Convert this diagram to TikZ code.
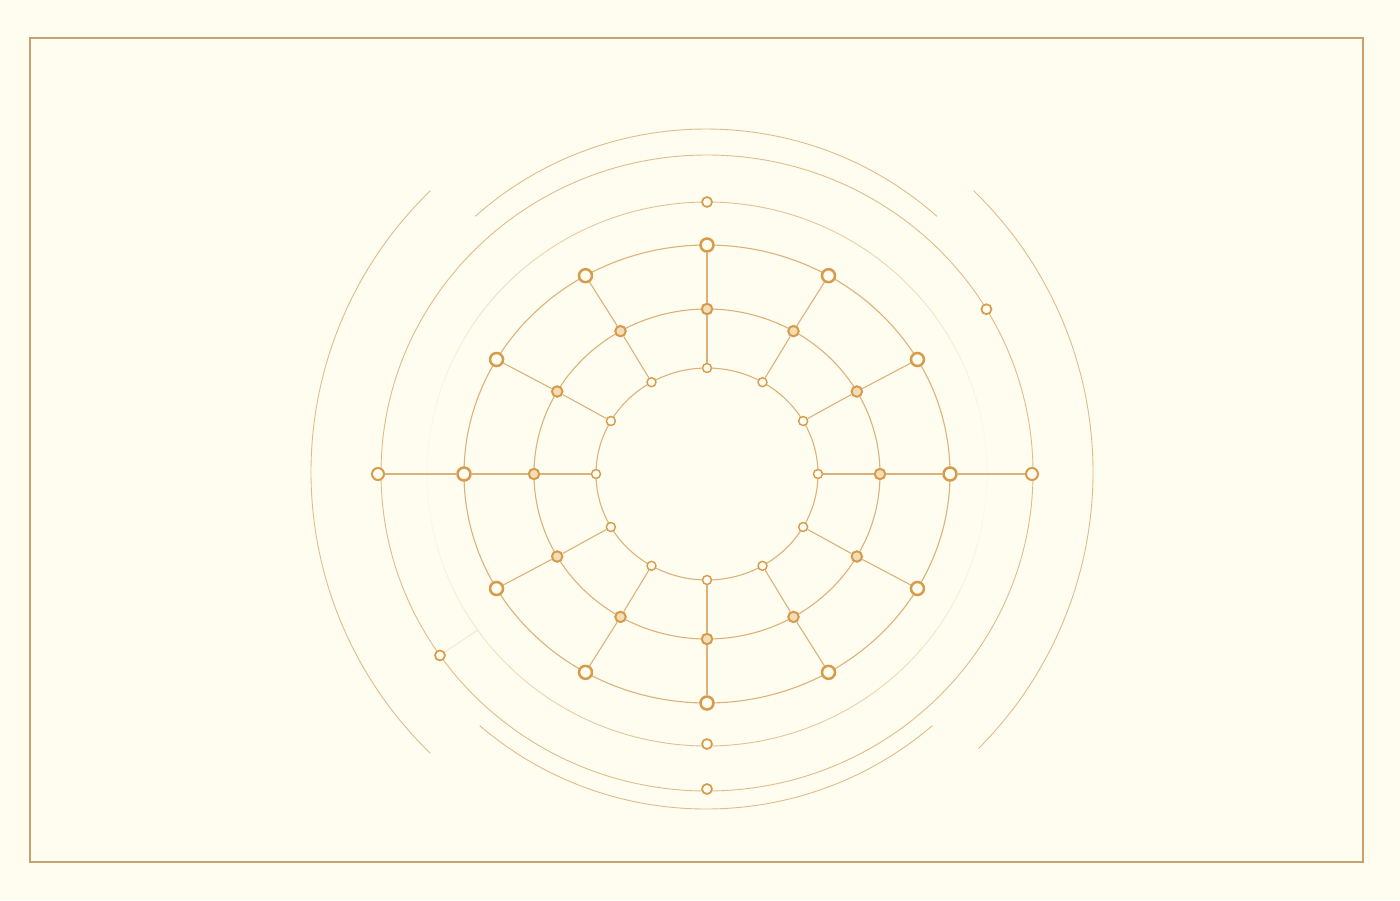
\documentclass[tikz,border=0pt]{standalone}
\definecolor{bgc}{HTML}{FFFDF0}
\definecolor{framec}{HTML}{C8A26C}
\definecolor{ringc}{HTML}{DDB27A}
\definecolor{thinc}{HTML}{E0BC8A}
\definecolor{nodec}{HTML}{D69C4C}
\definecolor{nodefill}{HTML}{F3DDB6}
\tikzset{
  ring/.style={draw=ringc, line width=1.1pt},
  thinring/.style={draw=thinc, line width=0.9pt},
  spoke/.style={draw=ringc, line width=1.1pt},
  nA/.style={circle, draw=nodec, fill=bgc, line width=1.4pt, minimum size=9pt, inner sep=0pt},
  nB/.style={circle, draw=nodec, fill=nodefill, line width=2pt, minimum size=10.5pt, inner sep=0pt},
  nC/.style={circle, draw=nodec, fill=bgc, line width=2.5pt, minimum size=13pt, inner sep=0pt},
  nD/.style={circle, draw=nodec, fill=bgc, line width=1.7pt, minimum size=10pt, inner sep=0pt},
  nE/.style={circle, draw=nodec, fill=bgc, line width=2pt, minimum size=12pt, inner sep=0pt},
}
\begin{document}
\begin{tikzpicture}[x=1pt, y=-1pt]
\useasboundingbox (0,0) rectangle (1400,900);
\fill[bgc] (0,0) rectangle (1400,900);
\draw[framec, line width=2pt] (30,38) rectangle (1363,862);
% outer arcs F (left/right)
\draw[thinring] (702,472) ++(-134:391 and 391) arc[start angle=-134, end angle=-226, x radius=391, y radius=391];
\draw[thinring] (702,472) ++(45:391 and 391) arc[start angle=45, end angle=-46, x radius=391, y radius=391];
% arcs G (top/bottom)
\draw[thinring] (706,469) ++(-48:345 and 340) arc[start angle=-48, end angle=-132, x radius=345, y radius=340];
\draw[thinring] (706,469) ++(131:345 and 340) arc[start angle=131, end angle=49, x radius=345, y radius=340];
% ring E
\draw[thinring] (707,473) ellipse[x radius=326, y radius=318];
% ring D with fading sides
\foreach \t in {0,5,...,355}{
  \pgfmathsetmacro\op{0.06+0.9*(abs(sin(\t+2.5)))^2}
  \draw[thinring, opacity=\op] (707,474) ++(\t:280 and 272) arc[start angle=\t, end angle=\t+5, x radius=280, y radius=272];
}
% rings A, B, C
\draw[ring] (707,474) ellipse[x radius=111, y radius=106];
\draw[ring] (707,474) ellipse[x radius=173, y radius=165];
\draw[ring] (707,474) ellipse[x radius=243, y radius=229];
% nodes on A, B, C
\foreach \k in {0,...,11}{
  \pgfmathsetmacro\m{30*\k}
  \node[nA] (a\k) at ({707+111*cos(\m)},{474-106*sin(\m)}) {};
  \node[nB] (b\k) at ({707+173*cos(\m)},{474-165*sin(\m)}) {};
  \node[nC] (c\k) at ({707+243*cos(\m)},{474-229*sin(\m)}) {};
}
% nodes on D and E
\node[nD] (d90) at (707,202) {};
\node[nD] (d270) at (707,744) {};
\node[nE] (e0) at (1032,474) {};
\node[nE] (e180) at (378,474) {};
\node[nD] (e270) at (707,789) {};
\node[nD] (e31) at ({707+326*cos(31)},{473-318*sin(31)}) {};
\node[nD] (e215) at ({707+326*cos(215)},{473-318*sin(215)}) {};
\coordinate (d215) at ({707+280*cos(215)},{474-272*sin(215)});
% spokes
\foreach \k in {0,...,11}{
  \draw[spoke] (a\k) -- (b\k);
  \draw[spoke] (b\k) -- (c\k);
}
\draw[spoke] (c0) -- (e0);
\draw[spoke] (c6) -- (e180);
\draw[thinring, opacity=0.35] (e215) -- (d215);
\end{tikzpicture}
\end{document}
